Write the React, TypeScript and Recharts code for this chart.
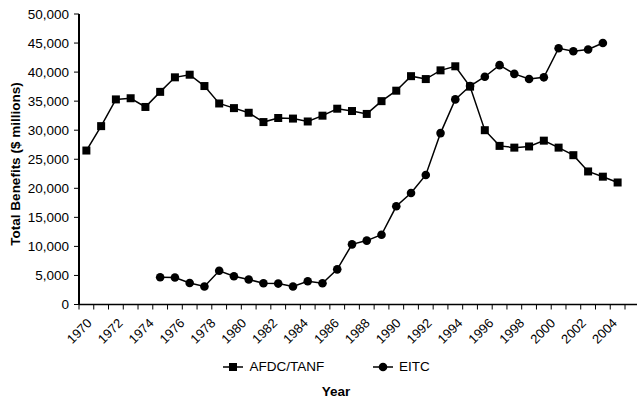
import React from "react";
import { LineChart, Line, XAxis, YAxis } from "recharts";

// AFDC/TANF vs EITC total benefits, $ millions.
const years = [
  1970, 1971, 1972, 1973, 1974, 1975, 1976, 1977, 1978, 1979, 1980, 1981,
  1982, 1983, 1984, 1985, 1986, 1987, 1988, 1989, 1990, 1991, 1992, 1993,
  1994, 1995, 1996, 1997, 1998, 1999, 2000, 2001, 2002, 2003, 2004, 2005,
  2006,
];

const afdcTanf = [
  26500, 30700, 35300, 35500, 34000, 36600, 39100, 39550, 37600, 34600,
  33800, 33000, 31400, 32100, 32000, 31500, 32500, 33700, 33300, 32800,
  35000, 36800, 39300, 38800, 40300, 41000, 37500, 30000, 27300, 27000,
  27200, 28200, 27000, 25700, 22900, 22000, 21000,
];

const eitc = [
  null, null, null, null, null, 4700, 4650, 3700, 3100, 5800, 4850, 4300,
  3650, 3600, 3100, 4000, 3650, 6050, 10350, 11000, 12000, 16900, 19200,
  22300, 29500, 35300, 37600, 39200, 41200, 39700, 38800, 39100, 44100,
  43600, 43900, 45000, null,
];

const yTicks = [0, 5000, 10000, 15000, 20000, 25000, 30000, 35000, 40000, 45000, 50000];

// tick labels as printed under the axis
const yearLabels = [
  1970, 1972, 1974, 1976, 1978, 1980, 1982, 1984, 1986, 1988, 1990, 1992,
  1994, 1996, 1998, 2000, 2002, 2004,
];

const seriesNames = { afdc: "AFDC/TANF", eitc: "EITC" };

const rows = years.map((year, i) => ({
  year,
  afdc: afdcTanf[i],
  eitc: eitc[i],
}));

// Excel-style tick marks sit between categories
const boundaryTicks = [...years.map((y) => y - 0.5), years[years.length - 1] + 0.5];

const FONT = "'Liberation Sans', Arial, sans-serif";

const SquareDot = (props: any) => {
  const { cx, cy, index } = props;
  if (cx == null || cy == null) return <g key={index} />;
  return <rect key={index} x={cx - 4} y={cy - 4} width={8} height={8} fill="#000" />;
};

const CircleDot = (props: any) => {
  const { cx, cy, index, value } = props;
  if (cx == null || cy == null || value == null) return <g key={index} />;
  return <circle key={index} cx={cx} cy={cy} r={4.3} fill="#000" />;
};

const TickMark = (props: any) => {
  const { x, y } = props;
  return <line x1={x} y1={y} x2={x} y2={y + 5} stroke="#000" strokeWidth={1} />;
};

const YearTick = (props: any) => {
  const { x, y, payload } = props;
  const px = x + 6;
  const py = y + 11.5;
  return (
    <text
      x={px}
      y={py}
      transform={`rotate(-45 ${px} ${py})`}
      textAnchor="end"
      fontSize={13}
      fill="#000"
    >
      {payload.value}
    </text>
  );
};

const YTitle = () => (
  <text
    x={15}
    y={164}
    transform="rotate(-90 15 164)"
    textAnchor="middle"
    dominantBaseline="central"
    fontSize={13.5}
    fontWeight="bold"
    fill="#000"
  >
    Total Benefits ($ millions)
  </text>
);

function LegendIcon({ shape }: { shape: "square" | "circle" }) {
  return (
    <svg width={20} height={10} style={{ display: "block" }}>
      <line x1={0} y1={5} x2={20} y2={5} stroke="#000" strokeWidth={1.5} />
      {shape === "square" ? (
        <rect x={6} y={1} width={8} height={8} fill="#000" />
      ) : (
        <circle cx={10} cy={5} r={4.3} fill="#000" />
      )}
    </svg>
  );
}

export default function App() {
  return (
    <div
      style={{
        position: "absolute",
        left: 0,
        top: 0,
        width: 637,
        height: 400,
        background: "#fff",
        fontFamily: FONT,
        color: "#000",
      }}
    >
      <LineChart
        width={637}
        height={400}
        data={rows}
        margin={{ top: 14, right: 0, bottom: 47.5, left: 0 }}
      >
        <XAxis
          xAxisId="top"
          orientation="top"
          type="number"
          domain={[0, 1]}
          height={0}
          tick={false}
          tickLine={false}
          axisLine={{ stroke: "#000", strokeWidth: 2 }}
        />
        <XAxis
          xAxisId="data"
          dataKey="year"
          type="number"
          domain={[1969.5, 2006.5]}
          ticks={boundaryTicks}
          interval={0}
          tick={<TickMark />}
          tickSize={0}
          tickMargin={0}
          tickLine={false}
          axisLine={{ stroke: "#000", strokeWidth: 1.5 }}
          height={8}
          padding={{ left: 0, right: 12 }}
          allowDataOverflow
        />
        <XAxis
          xAxisId="labels"
          dataKey="year"
          type="number"
          domain={[1969.5, 2004.85]}
          ticks={yearLabels}
          interval={0}
          tick={<YearTick />}
          tickLine={false}
          axisLine={false}
          tickSize={0}
          tickMargin={0}
          height={40}
          padding={{ left: 0, right: 12 }}
          allowDataOverflow
        />
        <YAxis
          type="number"
          domain={[0, 50000]}
          ticks={yTicks}
          interval={0}
          width={79}
          tickFormatter={(v: number) => v.toLocaleString("en-US")}
          tick={{ fill: "#000", fontSize: 13.5 }}
          tickSize={5}
          tickMargin={5}
          tickLine={{ stroke: "#000" }}
          axisLine={{ stroke: "#000", strokeWidth: 2 }}
          label={<YTitle />}
        />
        {/* invisible carrier so the label axis gets a scale */}
        <Line
          xAxisId="labels"
          dataKey="afdc"
          stroke="none"
          dot={false}
          activeDot={false}
          legendType="none"
          isAnimationActive={false}
        />
        <Line
          xAxisId="data"
          dataKey="afdc"
          name={seriesNames.afdc}
          stroke="#000"
          strokeWidth={1.5}
          dot={SquareDot}
          activeDot={false}
          isAnimationActive={false}
        />
        <Line
          xAxisId="data"
          dataKey="eitc"
          name={seriesNames.eitc}
          stroke="#000"
          strokeWidth={1.5}
          dot={CircleDot}
          activeDot={false}
          isAnimationActive={false}
        />
      </LineChart>

      {/* legend + x title as an overlay so the plot box stays fixed */}
      <div style={{ position: "absolute", left: 223, top: 362 }}>
        <LegendIcon shape="square" />
      </div>
      <div
        style={{ position: "absolute", left: 249.5, top: 359, fontSize: 13.5, lineHeight: "16px" }}
      >
        {seriesNames.afdc}
      </div>
      <div style={{ position: "absolute", left: 373, top: 362 }}>
        <LegendIcon shape="circle" />
      </div>
      <div
        style={{ position: "absolute", left: 399, top: 359, fontSize: 13.5, lineHeight: "16px" }}
      >
        {seriesNames.eitc}
      </div>
      <div
        style={{
          position: "absolute",
          left: 286,
          width: 100,
          top: 384,
          textAlign: "center",
          fontSize: 13.5,
          fontWeight: "bold",
          lineHeight: "16px",
        }}
      >
        Year
      </div>
    </div>
  );
}
